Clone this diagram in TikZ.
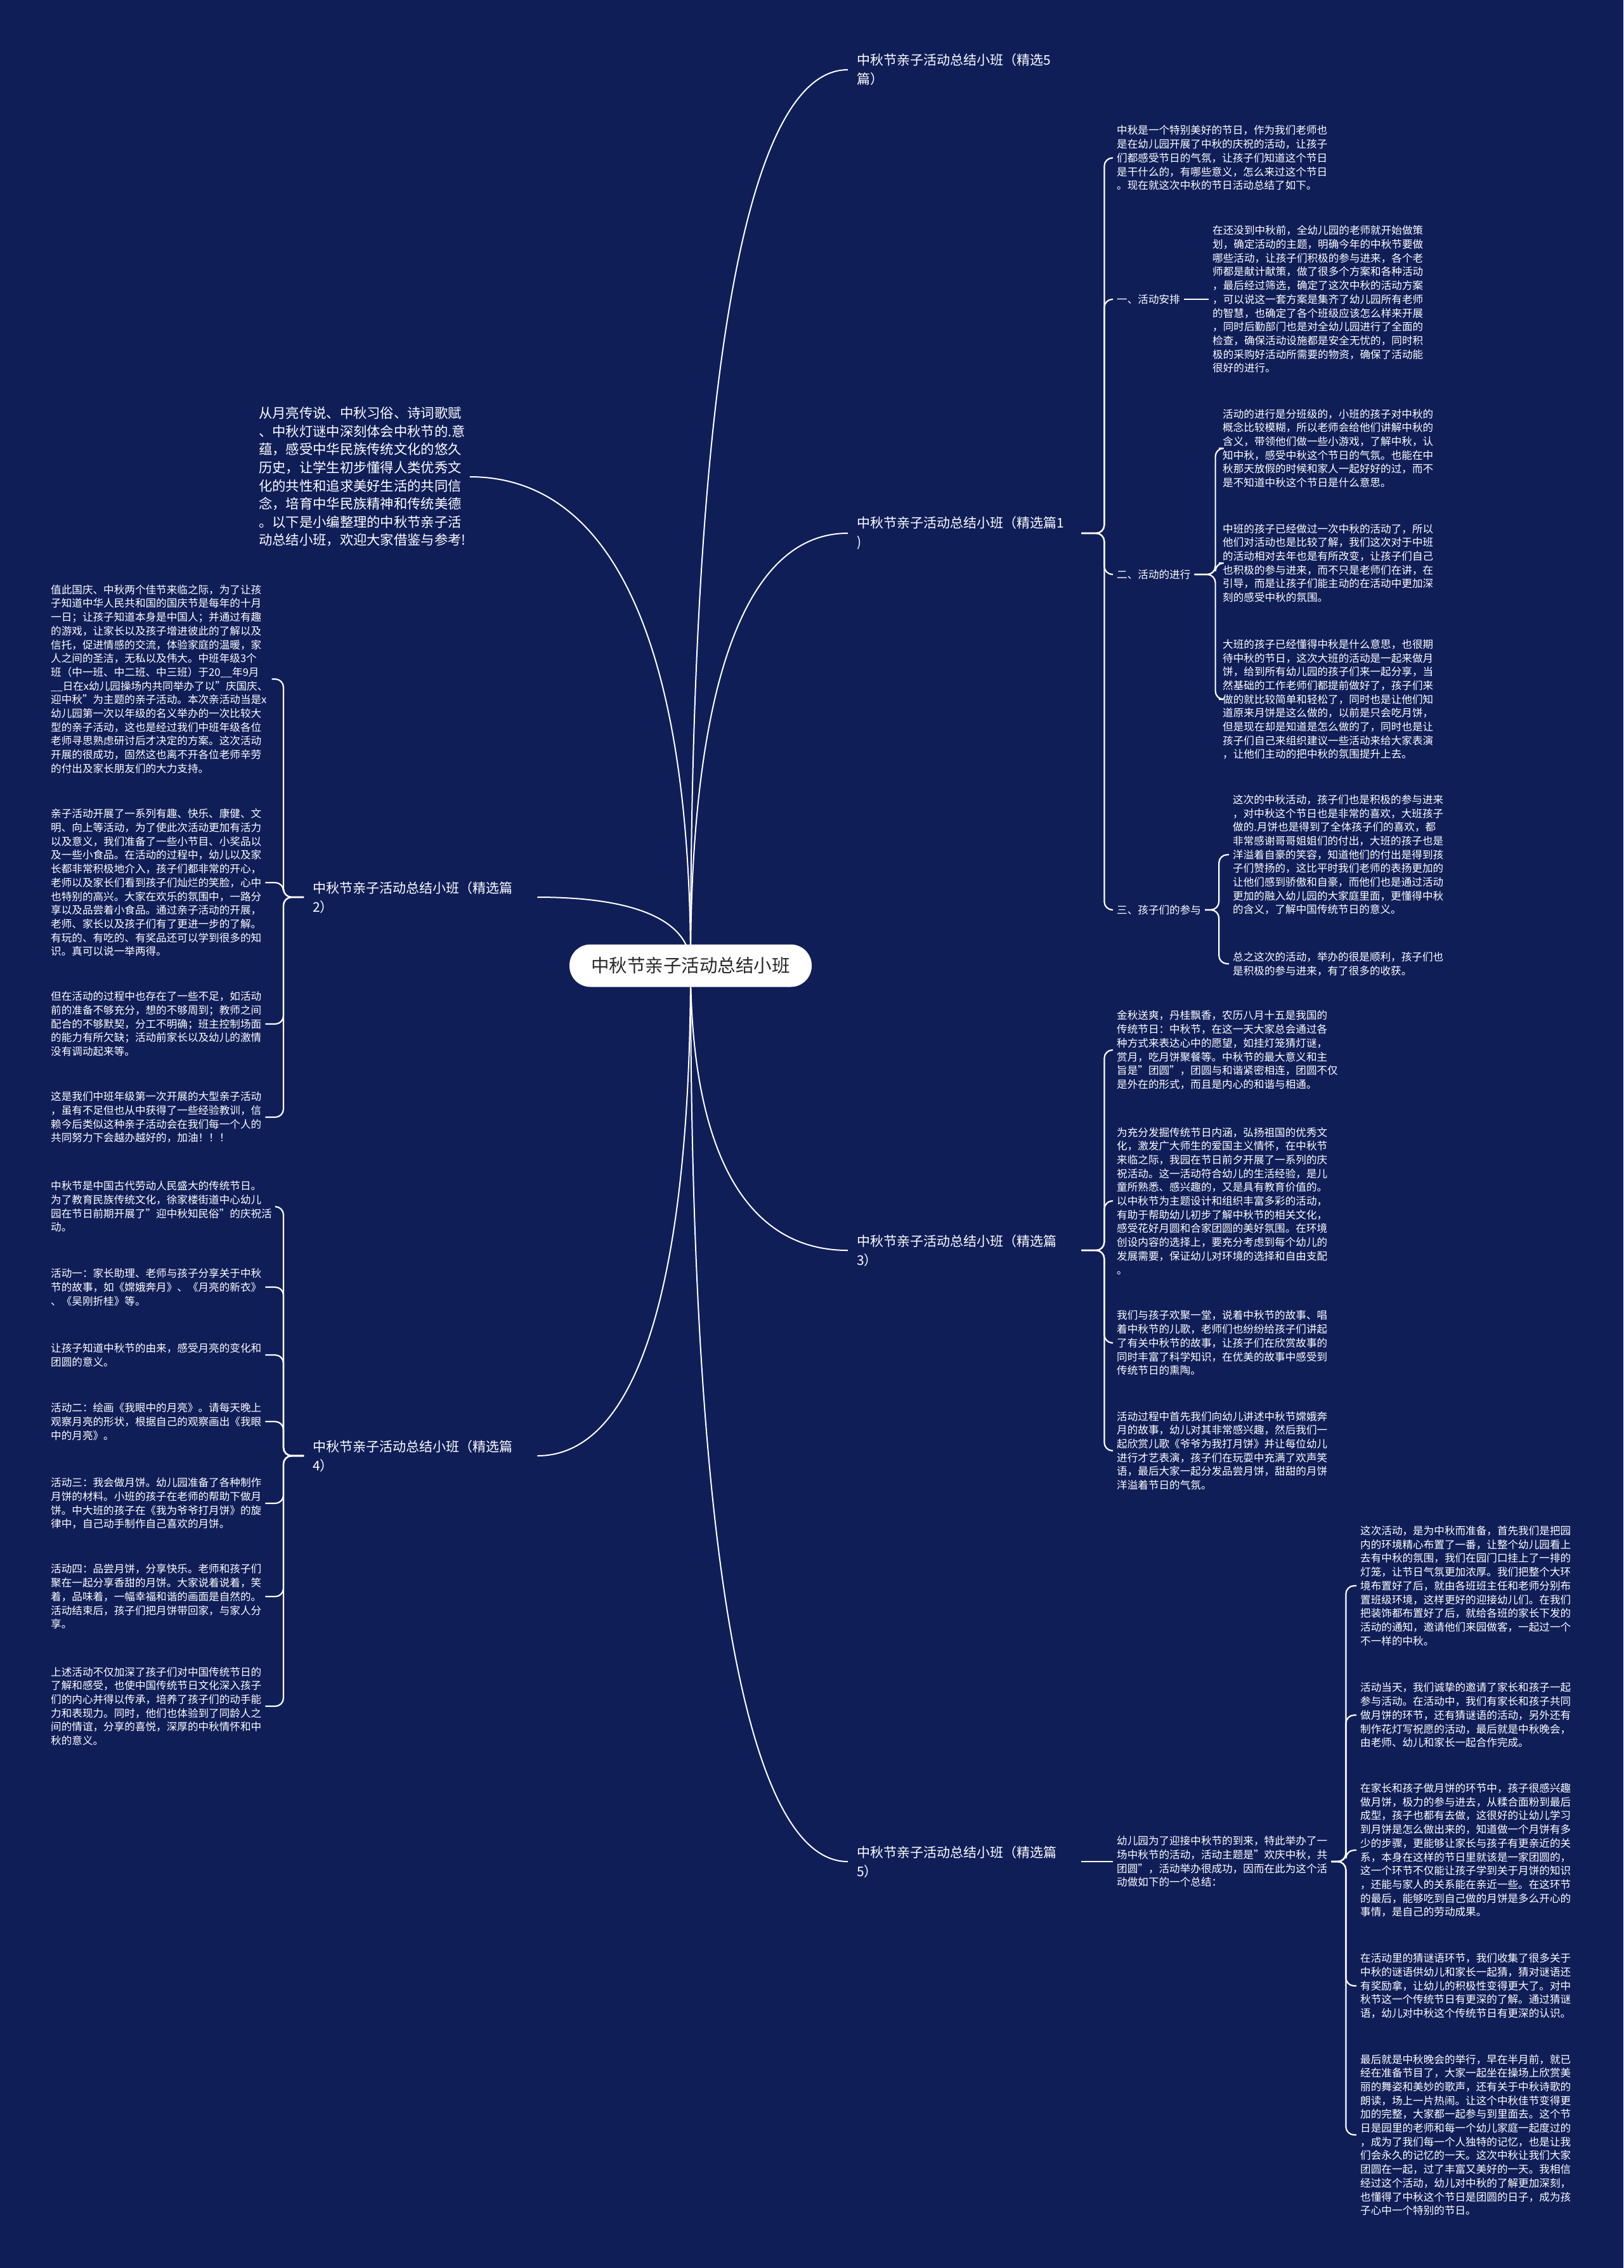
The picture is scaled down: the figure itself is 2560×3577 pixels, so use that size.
\documentclass[tikz,border=0pt]{standalone}
\usepackage{fontspec}
\setmainfont{Noto Sans CJK SC}
\usetikzlibrary{backgrounds,calc}
\definecolor{navy}{RGB}{16,30,88}
\definecolor{ink}{RGB}{40,40,40}

\tikzset{
  stem/.style={draw=white, line width=2pt},
  link/.style={draw=white, line width=2.2pt, rounded corners=13pt},
  curvy/.style={to path={.. controls ($(\tikztostart)!0.6!(\tikztostart |- \tikztotarget)$) and ($(\tikztotarget)!0.7!(\tikztostart |- \tikztotarget)$) .. (\tikztotarget)}},
  rootbox/.style={fill=white, text=ink, rounded corners=33pt, minimum width=382pt, minimum height=67pt, inner sep=0pt, font=\fontsize{28.5}{34}\selectfont},
  lead/.style={text=white, align=left, anchor=west, inner xsep=6pt, inner ysep=0pt, font=\fontsize{21.3}{28.6}\selectfont},
  branch/.style={text=white, align=left, anchor=west, text width=340pt, inner xsep=14pt, inner ysep=0pt, font=\fontsize{21}{30}\selectfont},
  para/.style={text=white, align=left, anchor=west, inner xsep=6pt, inner ysep=0pt, font=\fontsize{16.6}{21.7}\selectfont}
}

\begin{document}
\begin{tikzpicture}[x=1pt, y=-1pt]
    \useasboundingbox (0,0) rectangle (2560,3577);

    % Centre
    \node[rootbox] (root) at (1089,1523) {中秋节亲子活动总结小班};

    % Texte d'introduction (gauche)
    \node[lead] (intro) at (402,752) {从月亮传说、中秋习俗、诗词歌赋\\、中秋灯谜中深刻体会中秋节的.意\\蕴，感受中华民族传统文化的悠久\\历史，让学生初步懂得人类优秀文\\化的共性和追求美好生活的共同信\\念，培育中华民族精神和传统美德\\。以下是小编整理的中秋节亲子活\\动总结小班，欢迎大家借鉴与参考!};

    % Branches
    \node[branch] (btop) at (1337,110) {中秋节亲子活动总结小班（精选5\\篇）};
    \node[branch] (b1) at (1337,841) {中秋节亲子活动总结小班（精选篇1\\)};
    \node[branch] (b3) at (1337,1972) {中秋节亲子活动总结小班（精选篇\\3）};
    \node[branch] (b5) at (1337,2936) {中秋节亲子活动总结小班（精选篇\\5）};
    \node[branch] (b2) at (479,1415) {中秋节亲子活动总结小班（精选篇\\2）};
    \node[branch] (b4) at (479,2296) {中秋节亲子活动总结小班（精选篇\\4）};

    % Branche 1
    \node[para] (b1i) at (1755,249) {中秋是一个特别美好的节日，作为我们老师也\\是在幼儿园开展了中秋的庆祝的活动，让孩子\\们都感受节日的气氛，让孩子们知道这个节日\\是干什么的，有哪些意义，怎么来过这个节日\\。现在就这次中秋的节日活动总结了如下。};
    \node[para] (b1s1) at (1755,472) {一、活动安排};
    \node[para] (b1s1t) at (1906,472) {在还没到中秋前，全幼儿园的老师就开始做策\\划，确定活动的主题，明确今年的中秋节要做\\哪些活动，让孩子们积极的参与进来，各个老\\师都是献计献策，做了很多个方案和各种活动\\，最后经过筛选，确定了这次中秋的活动方案\\，可以说这一套方案是集齐了幼儿园所有老师\\的智慧，也确定了各个班级应该怎么样来开展\\，同时后勤部门也是对全幼儿园进行了全面的\\检查，确保活动设施都是安全无忧的，同时积\\极的采购好活动所需要的物资，确保了活动能\\很好的进行。};
    \node[para] (b1s2) at (1755,906) {二、活动的进行};
    \node[para] (b1s2a) at (1922,707) {活动的进行是分班级的，小班的孩子对中秋的\\概念比较模糊，所以老师会给他们讲解中秋的\\含义，带领他们做一些小游戏，了解中秋，认\\知中秋，感受中秋这个节日的气氛。也能在中\\秋那天放假的时候和家人一起好好的过，而不\\是不知道中秋这个节日是什么意思。};
    \node[para] (b1s2b) at (1922,888) {中班的孩子已经做过一次中秋的活动了，所以\\他们对活动也是比较了解，我们这次对于中班\\的活动相对去年也是有所改变，让孩子们自己\\也积极的参与进来，而不只是老师们在讲，在\\引导，而是让孩子们能主动的在活动中更加深\\刻的感受中秋的氛围。};
    \node[para] (b1s2c) at (1922,1103) {大班的孩子已经懂得中秋是什么意思，也很期\\待中秋的节日，这次大班的活动是一起来做月\\饼，给到所有幼儿园的孩子们来一起分享，当\\然基础的工作老师们都提前做好了，孩子们来\\做的就比较简单和轻松了，同时也是让他们知\\道原来月饼是这么做的，以前是只会吃月饼，\\但是现在却是知道是怎么做的了，同时也是让\\孩子们自己来组织建议一些活动来给大家表演\\，让他们主动的把中秋的氛围提升上去。};
    \node[para] (b1s3) at (1755,1435) {三、孩子们的参与};
    \node[para] (b1s3a) at (1938,1348) {这次的中秋活动，孩子们也是积极的参与进来\\，对中秋这个节日也是非常的喜欢，大班孩子\\做的.月饼也是得到了全体孩子们的喜欢，都\\非常感谢哥哥姐姐们的付出，大班的孩子也是\\洋溢着自豪的笑容，知道他们的付出是得到孩\\子们赞扬的，这比平时我们老师的表扬更加的\\让他们感到骄傲和自豪，而他们也是通过活动\\更加的融入幼儿园的大家庭里面，更懂得中秋\\的含义，了解中国传统节日的意义。};
    \node[para] (b1s3b) at (1938,1520) {总之这次的活动，举办的很是顺利，孩子们也\\是积极的参与进来，有了很多的收获。};

    % Branche 2
    \node[para] (b2a) at (74,1071) {值此国庆、中秋两个佳节来临之际，为了让孩\\子知道中华人民共和国的国庆节是每年的十月\\一日；让孩子知道本身是中国人；并通过有趣\\的游戏，让家长以及孩子增进彼此的了解以及\\信托，促进情感的交流，体验家庭的温暖，家\\人之间的圣洁，无私以及伟大。中班年级3个\\班（中一班、中二班、中三班）于20\_\_年9月\\\_\_日在x幼儿园操场内共同举办了以"庆国庆、\\迎中秋"为主题的亲子活动。本次亲活动当是x\\幼儿园第一次以年级的名义举办的一次比较大\\型的亲子活动，这也是经过我们中班年级各位\\老师寻思熟虑研讨后才决定的方案。这次活动\\开展的很成功，固然这也离不开各位老师辛劳\\的付出及家长朋友们的大力支持。};
    \node[para] (b2b) at (74,1392) {亲子活动开展了一系列有趣、快乐、康健、文\\明、向上等活动，为了使此次活动更加有活力\\以及意义，我们准备了一些小节目、小奖品以\\及一些小食品。在活动的过程中，幼儿以及家\\长都非常积极地介入，孩子们都非常的开心，\\老师以及家长们看到孩子们灿烂的笑脸，心中\\也特别的高兴。大家在欢乐的氛围中，一路分\\享以及品尝着小食品。通过亲子活动的开展，\\老师、家长以及孩子们有了更进一步的了解。\\有玩的、有吃的、有奖品还可以学到很多的知\\识。真可以说一举两得。};
    \node[para] (b2c) at (74,1615) {但在活动的过程中也存在了一些不足，如活动\\前的准备不够充分，想的不够周到；教师之间\\配合的不够默契，分工不明确；班主控制场面\\的能力有所欠缺；活动前家长以及幼儿的激情\\没有调动起来等。};
    \node[para] (b2d) at (74,1762) {这是我们中班年级第一次开展的大型亲子活动\\，虽有不足但也从中获得了一些经验教训，信\\赖今后类似这种亲子活动会在我们每一个人的\\共同努力下会越办越好的，加油！！！};

    % Branche 3
    \node[para] (b3a) at (1755,1656) {金秋送爽，丹桂飘香，农历八月十五是我国的\\传统节日：中秋节，在这一天大家总会通过各\\种方式来表达心中的愿望，如挂灯笼猜灯谜，\\赏月，吃月饼聚餐等。中秋节的最大意义和主\\旨是"团圆"，团圆与和谐紧密相连，团圆不仅\\是外在的形式，而且是内心的和谐与相通。};
    \node[para] (b3b) at (1755,1894) {为充分发掘传统节日内涵，弘扬祖国的优秀文\\化，激发广大师生的爱国主义情怀，在中秋节\\来临之际，我园在节日前夕开展了一系列的庆\\祝活动。这一活动符合幼儿的生活经验，是儿\\童所熟悉、感兴趣的，又是具有教育价值的。\\以中秋节为主题设计和组织丰富多彩的活动，\\有助于帮助幼儿初步了解中秋节的相关文化，\\感受花好月圆和合家团圆的美好氛围。在环境\\创设内容的选择上，要充分考虑到每个幼儿的\\发展需要，保证幼儿对环境的选择和自由支配\\。};
    \node[para] (b3c) at (1755,2118) {我们与孩子欢聚一堂，说着中秋节的故事、唱\\着中秋节的儿歌，老师们也纷纷给孩子们讲起\\了有关中秋节的故事，让孩子们在欣赏故事的\\同时丰富了科学知识，在优美的故事中感受到\\传统节日的熏陶。};
    \node[para] (b3d) at (1755,2288) {活动过程中首先我们向幼儿讲述中秋节嫦娥奔\\月的故事，幼儿对其非常感兴趣，然后我们一\\起欣赏儿歌《爷爷为我打月饼》并让每位幼儿\\进行才艺表演，孩子们在玩耍中充满了欢声笑\\语，最后大家一起分发品尝月饼，甜甜的月饼\\洋溢着节日的气氛。};

    % Branche 4
    \node[para] (b4a) at (74,1903) {中秋节是中国古代劳动人民盛大的传统节日。\\为了教育民族传统文化，徐家楼街道中心幼儿\\园在节日前期开展了"迎中秋知民俗"的庆祝活\\动。};
    \node[para] (b4b) at (74,2030) {活动一：家长助理、老师与孩子分享关于中秋\\节的故事，如《嫦娥奔月》、《月亮的新衣》\\、《吴刚折桂》等。};
    \node[para] (b4c) at (74,2137) {让孩子知道中秋节的由来，感受月亮的变化和\\团圆的意义。};
    \node[para] (b4d) at (74,2242) {活动二：绘画《我眼中的月亮》。请每天晚上\\观察月亮的形状，根据自己的观察画出《我眼\\中的月亮》。};
    \node[para] (b4e) at (74,2371) {活动三：我会做月饼。幼儿园准备了各种制作\\月饼的材料。小班的孩子在老师的帮助下做月\\饼。中大班的孩子在《我为爷爷打月饼》的旋\\律中，自己动手制作自己喜欢的月饼。};
    \node[para] (b4f) at (74,2518) {活动四：品尝月饼，分享快乐。老师和孩子们\\聚在一起分享香甜的月饼。大家说着说着，笑\\着，品味着，一幅幸福和谐的画面是自然的。\\活动结束后，孩子们把月饼带回家，与家人分\\享。};
    \node[para] (b4g) at (74,2691) {上述活动不仅加深了孩子们对中国传统节日的\\了解和感受，也使中国传统节日文化深入孩子\\们的内心并得以传承，培养了孩子们的动手能\\力和表现力。同时，他们也体验到了同龄人之\\间的情谊，分享的喜悦，深厚的中秋情怀和中\\秋的意义。};

    % Branche 5
    \node[para] (b5i) at (1755,2936) {幼儿园为了迎接中秋节的到来，特此举办了一\\场中秋节的活动，活动主题是"欢庆中秋，共\\团圆"，活动举办很成功，因而在此为这个活\\动做如下的一个总结：};
    \node[para] (b5a) at (2139,2501) {这次活动，是为中秋而准备，首先我们是把园\\内的环境精心布置了一番，让整个幼儿园看上\\去有中秋的氛围，我们在园门口挂上了一排的\\灯笼，让节日气氛更加浓厚。我们把整个大环\\境布置好了后，就由各班班主任和老师分别布\\置班级环境，这样更好的迎接幼儿们。在我们\\把装饰都布置好了后，就给各班的家长下发的\\活动的通知，邀请他们来园做客，一起过一个\\不一样的中秋。};
    \node[para] (b5b) at (2139,2705) {活动当天，我们诚挚的邀请了家长和孩子一起\\参与活动。在活动中，我们有家长和孩子共同\\做月饼的环节，还有猜谜语的活动，另外还有\\制作花灯写祝愿的活动，最后就是中秋晚会，\\由老师、幼儿和家长一起合作完成。};
    \node[para] (b5c) at (2139,2918) {在家长和孩子做月饼的环节中，孩子很感兴趣\\做月饼，极力的参与进去，从糅合面粉到最后\\成型，孩子也都有去做，这很好的让幼儿学习\\到月饼是怎么做出来的，知道做一个月饼有多\\少的步骤，更能够让家长与孩子有更亲近的关\\系，本身在这样的节日里就该是一家团圆的，\\这一个环节不仅能让孩子学到关于月饼的知识\\，还能与家人的关系能在亲近一些。在这环节\\的最后，能够吃到自己做的月饼是多么开心的\\事情，是自己的劳动成果。};
    \node[para] (b5d) at (2139,3132) {在活动里的猜谜语环节，我们收集了很多关于\\中秋的谜语供幼儿和家长一起猜，猜对谜语还\\有奖励拿，让幼儿的积极性变得更大了。对中\\秋节这一个传统节日有更深的了解。通过猜谜\\语，幼儿对中秋这个传统节日有更深的认识。};
    \node[para] (b5e) at (2139,3367) {最后就是中秋晚会的举行，早在半月前，就已\\经在准备节目了，大家一起坐在操场上欣赏美\\丽的舞姿和美妙的歌声，还有关于中秋诗歌的\\朗读，场上一片热闹。让这个中秋佳节变得更\\加的完整，大家都一起参与到里面去。这个节\\日是园里的老师和每一个幼儿家庭一起度过的\\，成为了我们每一个人独特的记忆，也是让我\\们会永久的记忆的一天。这次中秋让我们大家\\团圆在一起，过了丰富又美好的一天。我相信\\经过这个活动，幼儿对中秋的了解更加深刻，\\也懂得了中秋这个节日是团圆的日子，成为孩\\子心中一个特别的节日。};

    \begin{pgfonlayer}{background}
        % Fond
        \fill[navy] (0,0) rectangle (2560,3577);

        % Tiges depuis le centre
        \draw[stem] (root.center) to[curvy] (btop.west);
        \draw[stem] (root.center) to[curvy] (b1.west);
        \draw[stem] (root.center) to[curvy] (b3.west);
        \draw[stem] (root.center) to[curvy] (b5.west);
        \draw[stem] (root.center) to[curvy] (intro.east);
        \draw[stem] (root.center) to[curvy] (b2.east);
        \draw[stem] (root.center) to[curvy] (b4.east);

        % Accolades branche 1
        \draw[link] (b1.east) -- ++(36,0) |- (b1i.west);
        \draw[link] (b1.east) -- ++(36,0) |- (b1s1.west);
        \draw[link] (b1.east) -- ++(36,0) |- (b1s2.west);
        \draw[link] (b1.east) -- ++(36,0) |- (b1s3.west);
        \draw[link] (b1s1.east) -- (b1s1t.west);
        \draw[link] (b1s2.east) -- ++(33,0) |- (b1s2a.west);
        \draw[link] (b1s2.east) -- ++(33,0) |- (b1s2b.west);
        \draw[link] (b1s2.east) -- ++(33,0) |- (b1s2c.west);
        \draw[link] (b1s3.east) -- ++(22,0) |- (b1s3a.west);
        \draw[link] (b1s3.east) -- ++(22,0) |- (b1s3b.west);

        % Accolades branche 2
        \draw[link] (b2.west) -- ++(-32,0) |- (b2a.east);
        \draw[link] (b2.west) -- ++(-32,0) |- (b2b.east);
        \draw[link] (b2.west) -- ++(-32,0) |- (b2c.east);
        \draw[link] (b2.west) -- ++(-32,0) |- (b2d.east);

        % Accolades branche 3
        \draw[link] (b3.east) -- ++(36,0) |- (b3a.west);
        \draw[link] (b3.east) -- ++(36,0) |- (b3b.west);
        \draw[link] (b3.east) -- ++(36,0) |- (b3c.west);
        \draw[link] (b3.east) -- ++(36,0) |- (b3d.west);

        % Accolades branche 4
        \draw[link] (b4.west) -- ++(-32,0) |- (b4a.east);
        \draw[link] (b4.west) -- ++(-32,0) |- (b4b.east);
        \draw[link] (b4.west) -- ++(-32,0) |- (b4c.east);
        \draw[link] (b4.west) -- ++(-32,0) |- (b4d.east);
        \draw[link] (b4.west) -- ++(-32,0) |- (b4e.east);
        \draw[link] (b4.west) -- ++(-32,0) |- (b4f.east);
        \draw[link] (b4.west) -- ++(-32,0) |- (b4g.east);

        % Accolades branche 5
        \draw[link] (b5.east) -- (b5i.west);
        \draw[link] (b5i.east) -- ++(23,0) |- (b5a.west);
        \draw[link] (b5i.east) -- ++(23,0) |- (b5b.west);
        \draw[link] (b5i.east) -- ++(23,0) |- (b5c.west);
        \draw[link] (b5i.east) -- ++(23,0) |- (b5d.west);
        \draw[link] (b5i.east) -- ++(23,0) |- (b5e.west);
    \end{pgfonlayer}
\end{tikzpicture}
\end{document}
